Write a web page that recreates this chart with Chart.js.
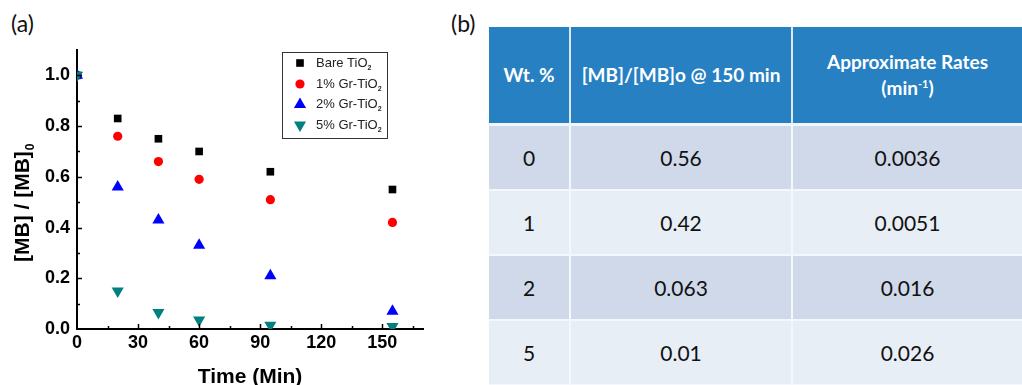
<!DOCTYPE html>
<html>
<head>
<meta charset="utf-8">
<script src="https://cdn.jsdelivr.net/npm/chart.js@4.4.0/dist/chart.umd.min.js"></script>
<style>
  body { margin: 0; background: #fff; width: 1022px; height: 385px; overflow: hidden; position: relative; }
  #wrap { position: absolute; left: 0; top: 0; width: 440px; height: 385px; }
  .panel { position: absolute; font-family: Lato, "Open Sans", sans-serif; font-size: 23px; color: #111; }
  #tbl { position: absolute; left: 489px; top: 27px; width: 533px; border-collapse: collapse; font-family: Lato, "Open Sans", sans-serif; font-size: 19px; table-layout: fixed; }
  #tbl th { background: #2680c2; color: #fff; font-weight: bold; height: 96px; padding: 0; border-right: 2px solid #dfe8f2; border-bottom: 3px solid #f2f5fa; line-height: 26px; }
  #tbl td { height: 63px; padding: 0; text-align: center; color: #111; font-size: 21px; border-right: 2px solid #f4f7fb; border-bottom: 2px solid #f4f7fb; }
  #tbl tr.odd td { background: #cfd9e9; }
  #tbl tr.even td { background: #e8eef6; }
  #tbl th:last-child, #tbl td:last-child { border-right: none; }
  sup { font-size: 11px; vertical-align: 7px; line-height: 0; }
</style>
</head>
<body>
<div class="panel" style="left:11px; top:9px;">(a)</div>
<div class="panel" style="left:451px; top:9px;">(b)</div>
<div id="wrap"><canvas id="myChart" width="440" height="385"></canvas></div>
<table id="tbl"></table>
<script>
// chart (a) data
const times = [0, 20, 40, 60, 95, 155];
const bareTiO2 = [1.0, 0.83, 0.75, 0.70, 0.62, 0.55];
const gr1TiO2 = [1.0, 0.76, 0.66, 0.59, 0.51, 0.42];
const gr2TiO2 = [1.0, 0.56, 0.43, 0.33, 0.21, 0.07];
const gr5TiO2 = [1.0, 0.15, 0.065, 0.035, 0.015, 0.01];
const seriesNames = ['Bare TiO', '1% Gr-TiO', '2% Gr-TiO', '5% Gr-TiO'];
const xTicks = [0, 30, 60, 90, 120, 150];
const yTicks = [0.0, 0.2, 0.4, 0.6, 0.8, 1.0];

// table (b) data
const headers = ['Wt. %', '[MB]/[MB]o @ 150 min', 'Approximate Rates<br>(min<sup>-1</sup>)'];
const wtPct = ['0', '1', '2', '5'];
const ratio150 = ['0.56', '0.42', '0.063', '0.01'];
const rates = ['0.0036', '0.0051', '0.016', '0.026'];

// build table
var html = '<colgroup><col style="width:81px"><col style="width:222px"><col></colgroup><tr>'
for (var i = 0; i < headers.length; i++) html += '<th>' + headers[i] + '</th>'
html += '</tr>'
for (var r = 0; r < wtPct.length; r++) {
  html += '<tr class="' + (r % 2 == 0 ? 'odd' : 'even') + '"><td>' + wtPct[r] + '</td><td>' + ratio150[r] + '</td><td>' + rates[r] + '</td></tr>'
}
document.getElementById('tbl').innerHTML = html

function pts(ys) {
  return times.map(function (t, i) { return { x: t, y: ys[i] } })
}

const FONT = '"Liberation Sans", Arial, sans-serif'

// inward tick marks, legend box and axis titles
const extras = {
  id: 'extras',
  afterDraw(chart) {
    const ctx = chart.ctx
    const xs = chart.scales.x, ys = chart.scales.y
    const a = chart.chartArea
    ctx.save()
    ctx.strokeStyle = '#000'
    ctx.lineWidth = 1.5
    for (var v = 15; v <= 165; v += 15) {
      var px = Math.round(xs.getPixelForValue(v)) + 0.5
      ctx.beginPath(); ctx.moveTo(px, a.bottom); ctx.lineTo(px, a.bottom - (v % 30 == 0 ? 5 : 3)); ctx.stroke()
    }
    for (var k = 1; k <= 10; k++) {
      var py = Math.round(ys.getPixelForValue(k / 10)) + 0.5
      ctx.beginPath(); ctx.moveTo(a.left, py); ctx.lineTo(a.left + (k % 2 == 0 ? 5 : 3), py); ctx.stroke()
    }

    // legend
    ctx.lineWidth = 1
    ctx.strokeStyle = '#333'
    ctx.strokeRect(282.5, 52.5, 105, 86)
    var rowsY = [63, 84, 104.5, 125]
    ctx.textBaseline = 'middle'
    chart.data.datasets.forEach(function (ds, i) {
      ctx.fillStyle = ds.backgroundColor
      ctx.strokeStyle = ds.backgroundColor
      Chart.helpers.drawPoint(ctx, { pointStyle: ds.pointStyle, rotation: ds.rotation || 0, radius: ds.pointRadius, borderWidth: 0 }, 300, rowsY[i])
      ctx.fillStyle = '#222'
      ctx.font = '13px ' + FONT
      ctx.textAlign = 'left'
      ctx.fillText(seriesNames[i], 316, rowsY[i])
      var w = ctx.measureText(seriesNames[i]).width
      ctx.font = 'bold 7px ' + FONT
      ctx.fillText('2', 316 + w, rowsY[i] + 5)
    })

    // axis titles
    ctx.fillStyle = '#000'
    ctx.textBaseline = 'alphabetic'
    ctx.font = 'bold 21px ' + FONT
    ctx.textAlign = 'center'
    ctx.fillText('Time (Min)', (a.left + a.right) / 2, 383)

    ctx.translate(29, 262)
    ctx.rotate(-Math.PI / 2)
    ctx.textAlign = 'left'
    ctx.font = 'bold 21px ' + FONT
    var t = '[MB] / [MB]'
    ctx.fillText(t, 0, 0)
    var tw = ctx.measureText(t).width
    ctx.font = 'bold 12px ' + FONT
    ctx.fillText('0', tw + 1, 5)
    ctx.restore()
  }
}

new Chart(document.getElementById('myChart'), {
  type: 'scatter',
  data: {
    datasets: [
      { label: 'Bare TiO2', data: pts(bareTiO2), order: 4, pointStyle: 'rect', pointRadius: 5.4, backgroundColor: '#000000', borderColor: '#000000', borderWidth: 0 },
      { label: '1% Gr-TiO2', data: pts(gr1TiO2), order: 3, pointStyle: 'circle', pointRadius: 4.6, backgroundColor: '#ff0000', borderColor: '#ff0000', borderWidth: 0 },
      { label: '2% Gr-TiO2', data: pts(gr2TiO2), order: 2, pointStyle: 'triangle', pointRadius: 7, backgroundColor: '#0000ff', borderColor: '#0000ff', borderWidth: 0 },
      { label: '5% Gr-TiO2', data: pts(gr5TiO2), order: 1, pointStyle: 'triangle', rotation: 180, pointRadius: 7, backgroundColor: '#008080', borderColor: '#008080', borderWidth: 0 }
    ]
  },
  options: {
    responsive: false,
    animation: false,
    devicePixelRatio: 1,
    layout: { padding: { top: 50, right: 17, left: 0, bottom: 0 } },
    plugins: { legend: { display: false }, tooltip: { enabled: false } },
    scales: {
      x: {
        type: 'linear', min: 0, max: 170,
        afterFit: function (s) { s.height = 56 },
        afterBuildTicks: function (s) { s.ticks = xTicks.map(function (v) { return { value: v } }) },
        grid: { display: false, drawTicks: false },
        border: { display: true, color: '#000', width: 2 },
        ticks: { padding: 3, color: '#000', font: { family: FONT, size: 18, weight: 'bold' }, maxRotation: 0, autoSkip: false }
      },
      y: {
        type: 'linear', min: 0, max: 1.1,
        afterFit: function (s) { s.width = 77 },
        afterBuildTicks: function (s) { s.ticks = yTicks.map(function (v) { return { value: v } }) },
        grid: { display: false, drawTicks: false },
        border: { display: true, color: '#000', width: 2 },
        ticks: { padding: 7, color: '#000', font: { family: FONT, size: 18, weight: 'bold' }, autoSkip: false,
          callback: function (v) { return v.toFixed(1) } }
      }
    }
  },
  plugins: [extras]
})
</script>
</body>
</html>
